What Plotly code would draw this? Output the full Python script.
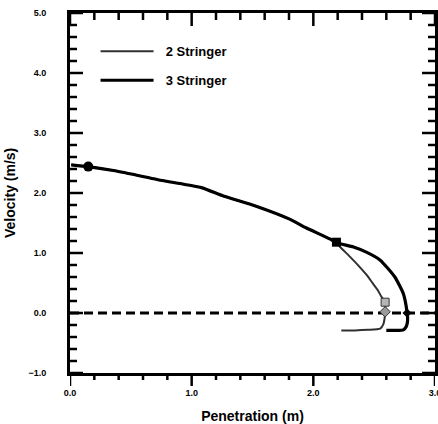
import plotly.graph_objects as go

# Penetration (m) and velocity (m/s) along each trajectory
pen_2 = [0.01, 0.15, 0.37, 0.78, 1.08, 1.26, 1.53, 1.81, 1.94, 2.14, 2.19, 2.22, 2.30, 2.38, 2.44,
         2.49, 2.53, 2.56, 2.59, 2.59, 2.585, 2.575, 2.55, 2.45, 2.34, 2.23]
vel_2 = [2.47, 2.44, 2.37, 2.20, 2.09, 1.95, 1.78, 1.56, 1.42, 1.23, 1.17, 1.10, 0.94, 0.77, 0.63,
         0.49, 0.38, 0.27, 0.18, 0.03, -0.10, -0.19, -0.26, -0.28, -0.29, -0.29]

pen_3 = [0.01, 0.15, 0.37, 0.78, 1.08, 1.26, 1.53, 1.81, 1.94, 2.14, 2.19, 2.33, 2.44, 2.55, 2.67,
         2.74, 2.77, 2.775, 2.765, 2.74, 2.68, 2.60]
vel_3 = [2.47, 2.44, 2.37, 2.20, 2.09, 1.95, 1.78, 1.56, 1.42, 1.23, 1.17, 1.10, 1.01, 0.88, 0.60,
         0.32, 0.02, -0.12, -0.22, -0.28, -0.29, -0.29]

# Event markers
impact = (0.15, 2.44)
split_point = (2.19, 1.18)
stop_2_sq = (2.59, 0.18)
stop_2_dia = (2.59, 0.02)
stop_3 = (2.77, 0.0)

zero_x = [0.0, 3.0]
zero_y = [0.0, 0.0]

# Tick positions
x_major = [0.0, 1.0, 2.0, 3.0]
x_minor = [0.2, 0.4, 0.6, 0.8, 1.2, 1.4, 1.6, 1.8, 2.2, 2.4, 2.6, 2.8]
y_major = [-1.0, 0.0, 1.0, 2.0, 3.0, 4.0, 5.0]
y_minor = [-0.8, -0.6, -0.4, -0.2, 0.2, 0.4, 0.6, 0.8, 1.2, 1.4, 1.6, 1.8,
           2.2, 2.4, 2.6, 2.8, 3.2, 3.4, 3.6, 3.8, 4.2, 4.4, 4.6, 4.8]

W, H = 438, 424
M_L, M_R, M_T, M_B = 70, 3, 13, 51
plot_w = W - M_L - M_R
plot_h = H - M_T - M_B
MAJOR_LEN, MINOR_LEN = 13, 7

bold_font = dict(family="Liberation Sans, Arial, sans-serif", color="black", weight="bold")

fig = go.Figure()

fig.add_trace(go.Scatter(x=zero_x, y=zero_y, mode="lines",
                         line=dict(color="black", width=3, dash="9px,5px"),
                         showlegend=False, hoverinfo="skip"))

fig.add_trace(go.Scatter(x=pen_2, y=vel_2, mode="lines", name="\u00a0\u00a02 Stringer",
                         legendgroup="a",
                         line=dict(color="#303030", width=2, shape="spline", smoothing=0.5)))
fig.add_trace(go.Scatter(x=pen_3, y=vel_3, mode="lines", name="\u00a0\u00a03 Stringer",
                         legendgroup="b",
                         line=dict(color="black", width=3.2, shape="spline", smoothing=0.5)))

fig.add_trace(go.Scatter(x=[impact[0]], y=[impact[1]], mode="markers", showlegend=False,
                         marker=dict(symbol="circle", size=10, color="black")))
fig.add_trace(go.Scatter(x=[split_point[0]], y=[split_point[1]], mode="markers", showlegend=False,
                         marker=dict(symbol="square", size=9, color="black")))
fig.add_trace(go.Scatter(x=[stop_2_sq[0]], y=[stop_2_sq[1]], mode="markers", showlegend=False,
                         marker=dict(symbol="square", size=8, color="#b5b5b5",
                                     line=dict(color="#333", width=1))))
fig.add_trace(go.Scatter(x=[stop_2_dia[0]], y=[stop_2_dia[1]], mode="markers", showlegend=False,
                         marker=dict(symbol="diamond", size=8, color="#9a9a9a",
                                     line=dict(color="#333", width=1))))
fig.add_trace(go.Scatter(x=[stop_3[0]], y=[stop_3[1]], mode="markers", showlegend=False,
                         marker=dict(symbol="diamond", size=7, color="black")))

# Tick marks: bottom ticks hang outside, the other three sides point inward
tick_line = dict(color="black", width=2.5)
shapes = []
for vals, length in ((x_major, MAJOR_LEN), (x_minor, MINOR_LEN)):
    dy = length / plot_h
    for v in vals:
        shapes.append(dict(type="line", xref="x", yref="paper", x0=v, x1=v, y0=0, y1=-dy,
                           line=tick_line, opacity=1, layer="above"))
        shapes.append(dict(type="line", xref="x", yref="paper", x0=v, x1=v, y0=1, y1=1 - dy,
                           line=tick_line, opacity=1, layer="above"))
for vals, length in ((y_major, MAJOR_LEN), (y_minor, MINOR_LEN)):
    dx = length / plot_w
    for v in vals:
        shapes.append(dict(type="line", xref="paper", yref="y", x0=0, x1=dx, y0=v, y1=v,
                           line=tick_line, opacity=1, layer="above"))
        shapes.append(dict(type="line", xref="paper", yref="y", x0=1, x1=1 - dx, y0=v, y1=v,
                           line=tick_line, opacity=1, layer="above"))

axis_common = dict(
    showgrid=False, zeroline=False, automargin=False,
    showline=True, linecolor="black", linewidth=3, mirror=True,
    ticks="", tickformat=".1f", ticklabeloverflow="allow",
    tickfont=dict(size=9, **bold_font),
)

fig.update_xaxes(range=[0, 3], tickvals=x_major, ticklabelstandoff=9,
                 title=dict(text="Penetration (m)", font=dict(size=14, **bold_font)),
                 **axis_common)
fig.update_yaxes(range=[-1, 5], tickvals=y_major, ticklabelstandoff=19,
                 **axis_common)

fig.add_annotation(text="Velocity (m/s)", xref="paper", yref="paper",
                   x=(10 - M_L) / plot_w, y=0.5, xanchor="center", yanchor="middle",
                   textangle=-90, showarrow=False, font=dict(size=14, **bold_font))

fig.update_layout(
    template="simple_white",
    width=W, height=H,
    margin=dict(l=M_L, r=M_R, t=M_T, b=M_B),
    plot_bgcolor="white", paper_bgcolor="white",
    shapes=shapes,
    legend=dict(x=0.07, y=0.935, xanchor="left", yanchor="top",
                bgcolor="rgba(0,0,0,0)", itemwidth=53, tracegroupgap=9,
                font=dict(size=13, **bold_font)),
)

fig.write_html("out.html")
